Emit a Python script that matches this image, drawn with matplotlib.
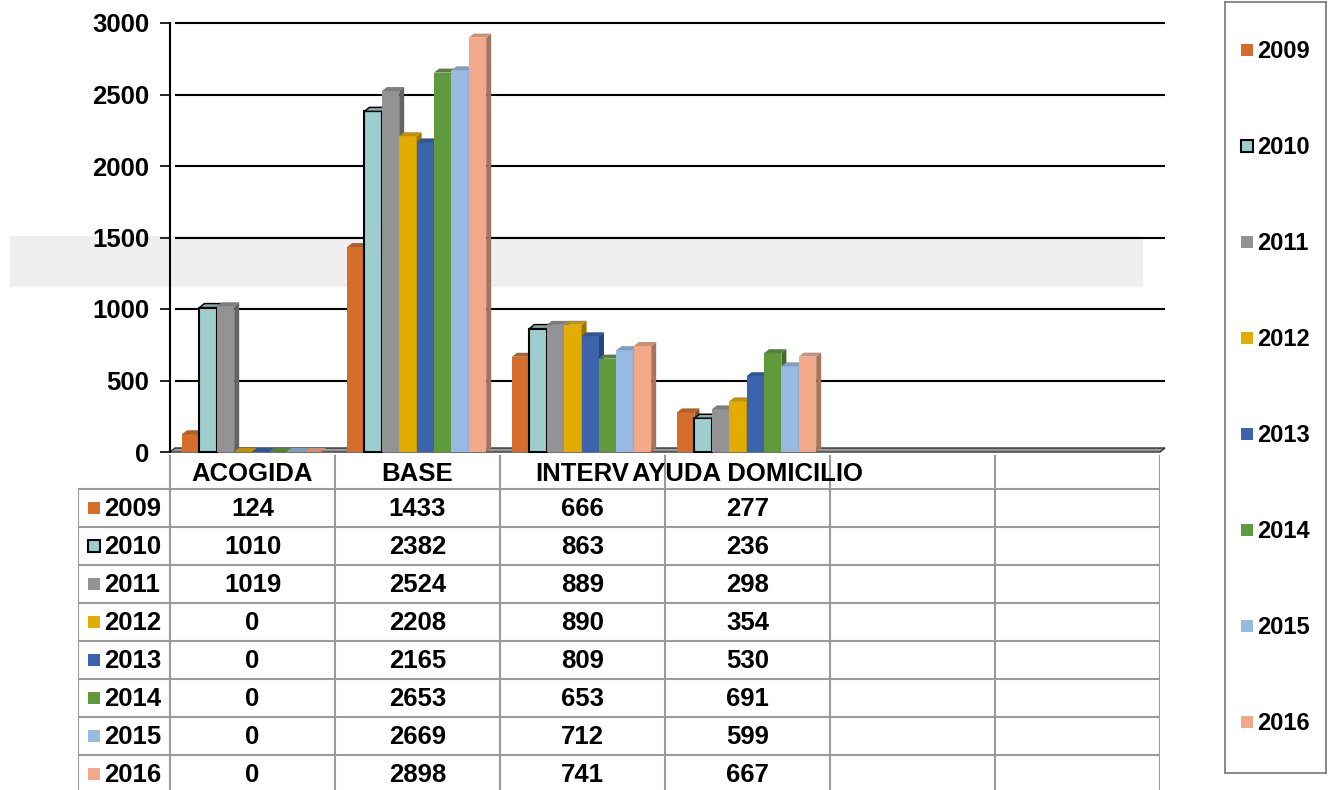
import numpy as np
import matplotlib.pyplot as plt
from matplotlib.patches import Polygon, Rectangle
from matplotlib import colors as mcolors

plt.rcParams['font.family'] = ['Liberation Sans', 'DejaVu Sans']
plt.rcParams['font.weight'] = 'bold'

categories = ["ACOGIDA", "BASE", "INTERV", "AYUDA DOMICILIO", "", ""]
years = ["2009", "2010", "2011", "2012", "2013", "2014", "2015", "2016"]
v2009 = [124, 1433, 666, 277]
v2010 = [1010, 2382, 863, 236]
v2011 = [1019, 2524, 889, 298]
v2012 = [0, 2208, 890, 354]
v2013 = [0, 2165, 809, 530]
v2014 = [0, 2653, 653, 691]
v2015 = [0, 2669, 712, 599]
v2016 = [0, 2898, 741, 667]
series = [v2009, v2010, v2011, v2012, v2013, v2014, v2015, v2016]
bar_colors = ["#D46E2A", "#9DCDCD", "#939393", "#E2AC00",
              "#3B64AD", "#5F9B3C", "#98B9E2", "#F2A98A"]
yticks = [0, 500, 1000, 1500, 2000, 2500, 3000]

W, H = 1333, 790


def fx(px):
    return px / W


def fy(py):
    return 1 - py / H


def shade(c, f):
    r, g, b = mcolors.to_rgb(c)
    return (r * f, g * f, b * f)


fig = plt.figure(figsize=(W / 100, H / 100), dpi=100)

# light grey band behind the plot
fig.patches.append(Rectangle((fx(10), fy(287)), fx(1143) - fx(10), fy(236) - fy(287),
                             transform=fig.transFigure, facecolor="#efefef",
                             edgecolor="none", zorder=-5))

ax = fig.add_axes([fx(170), fy(452), fx(1160) - fx(170), fy(23) - fy(452)])
ax.set_zorder(2)
ax.set_facecolor("none")
ncat = len(categories)
ax.set_xlim(0, ncat)
ax.set_ylim(0, 3000)

dx = 5 / 165
dy = 28
w = 17.4 / 165
off = 12 / 165

ax.hlines(yticks[1:], dx, ncat + dx, colors="black", lw=1.5, zorder=1, clip_on=False)

# floor
ax.add_patch(Polygon([(0, 0), (ncat, 0), (ncat + dx, dy), (dx, dy)], closed=True,
                     facecolor="#9a9a9a", edgecolor="#333333", lw=1, zorder=2,
                     clip_on=False))

for j, vals in enumerate(series):
    c = bar_colors[j]
    x = np.arange(len(vals)) + off + j * w
    ec = "black" if j == 1 else "none"
    lw = 1.5 if j == 1 else 0
    ax.bar(x, vals, width=w, align="edge", color=c, edgecolor=ec, lw=lw, zorder=3,
           clip_on=False)
    for xi, v in zip(x, vals):
        top = [(xi, v), (xi + w, v), (xi + w + dx, v + dy), (xi + dx, v + dy)]
        side = [(xi + w, 0), (xi + w + dx, dy), (xi + w + dx, v + dy), (xi + w, v)]
        ax.add_patch(Polygon(side, closed=True, facecolor=shade(c, 0.68),
                             edgecolor=ec, lw=lw * 0.7, zorder=3, clip_on=False))
        ax.add_patch(Polygon(top, closed=True, facecolor=shade(c, 0.85),
                             edgecolor=ec, lw=lw * 0.7, zorder=3, clip_on=False))

ax.set_yticks(yticks)
ax.set_yticklabels([str(t) for t in yticks], fontsize=18.5, fontweight="bold")
ax.set_xticks([])
ax.tick_params(axis="y", length=7, width=1.2, pad=8)
for s in ["top", "right", "bottom"]:
    ax.spines[s].set_visible(False)
ax.spines["left"].set_linewidth(1.5)

# data table
left = (78 - 170) / 165
tax = fig.add_axes([fx(78), fy(790), fx(1160) - fx(78), fy(455) - fy(790)])
tax.set_xlim(left, ncat)
tax.set_ylim(790, 455)
tax.axis("off")
gc = "#9b9b9b"
row0 = 489
rh = 38
for k in range(ncat + 1):
    tax.vlines(k, 455, 790, colors=gc, lw=1.5)
tax.vlines(left, row0, 790, colors=gc, lw=1.5)
for k in range(len(years)):
    tax.hlines(row0 + k * rh, left, ncat, colors=gc, lw=1.5)

for i, cat in enumerate(categories):
    tax.text(i + 0.5, 474, cat, ha="center", va="center", fontsize=18.5,
             fontweight="bold")

for j, vals in enumerate(series):
    yc = row0 + j * rh + rh / 2
    tax.add_patch(Rectangle((-82 / 165, yc - 6), 12 / 165, 12,
                            facecolor=bar_colors[j],
                            edgecolor="black" if j == 1 else "none",
                            lw=1.5 if j == 1 else 0))
    tax.text(-66 / 165, yc + 1, years[j], ha="left", va="center", fontsize=18.5,
             fontweight="bold")
    for i, v in enumerate(vals):
        tax.text(i + 0.5, yc + 1, str(v), ha="center", va="center", fontsize=18.5,
                 fontweight="bold")

# legend box
lax = fig.add_axes([fx(1225), fy(773), fx(1326) - fx(1225), fy(2) - fy(773)])
lax.set_xlim(1225, 1326)
lax.set_ylim(773, 2)
lax.set_xticks([])
lax.set_yticks([])
for s in lax.spines.values():
    s.set_color("#777777")
    s.set_linewidth(1.2)
for j, yr in enumerate(years):
    yc = 50 + 96 * j
    lax.add_patch(Rectangle((1241, yc - 6), 12, 12, facecolor=bar_colors[j],
                            edgecolor="black" if j == 1 else "none",
                            lw=1.5 if j == 1 else 0))
    lax.text(1257, yc + 1, yr, ha="left", va="center", fontsize=17, fontweight="bold")

fig.savefig("out.png", dpi=100)
